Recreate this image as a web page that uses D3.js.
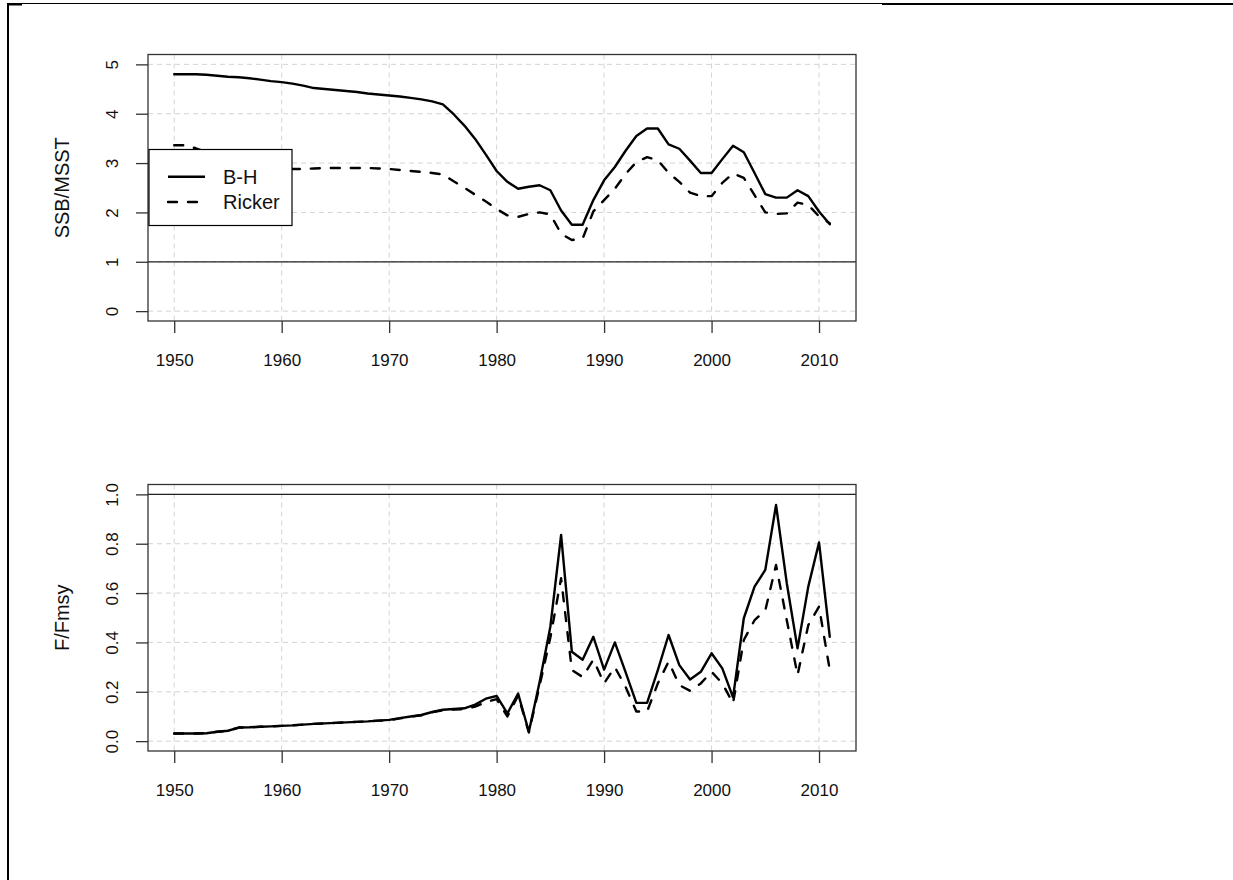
<!DOCTYPE html>
<html><head><meta charset="utf-8">
<script src="https://cdn.jsdelivr.net/npm/d3@7"></script>
<style>body{margin:0;background:#fff}svg{display:block}text{font-family:"Liberation Sans",Arial,sans-serif;fill:#111}</style>
</head><body><svg id="c" width="1233" height="880"></svg>
<script>
const years = [1950,1951,1952,1953,1954,1955,1956,1957,1958,1959,1960,1961,1962,1963,1964,1965,1966,1967,1968,1969,1970,1971,1972,1973,1974,1975,1976,1977,1978,1979,1980,1981,1982,1983,1984,1985,1986,1987,1988,1989,1990,1991,1992,1993,1994,1995,1996,1997,1998,1999,2000,2001,2002,2003,2004,2005,2006,2007,2008,2009,2010,2011];
const ssbBH = [4.80,4.80,4.80,4.79,4.77,4.75,4.74,4.72,4.69,4.66,4.64,4.61,4.57,4.52,4.50,4.48,4.46,4.44,4.41,4.39,4.37,4.35,4.32,4.29,4.25,4.19,3.99,3.76,3.49,3.17,2.84,2.62,2.48,2.52,2.55,2.45,2.04,1.75,1.75,2.25,2.65,2.92,3.25,3.55,3.70,3.70,3.38,3.29,3.05,2.80,2.80,3.08,3.35,3.22,2.80,2.37,2.30,2.30,2.45,2.33,2.02,1.76];
const ssbRicker = [3.36,3.36,3.30,3.22,3.12,3.05,3.00,2.96,2.93,2.91,2.89,2.88,2.88,2.89,2.90,2.90,2.90,2.90,2.90,2.89,2.88,2.86,2.84,2.82,2.80,2.77,2.63,2.50,2.36,2.22,2.07,1.94,1.91,1.97,2.00,1.96,1.57,1.44,1.47,2.02,2.25,2.48,2.78,3.02,3.12,3.06,2.80,2.62,2.40,2.33,2.33,2.60,2.79,2.70,2.35,2.00,1.97,1.98,2.20,2.15,1.92,1.78];
const fBH = [0.031,0.031,0.031,0.032,0.038,0.042,0.055,0.056,0.058,0.060,0.062,0.064,0.067,0.070,0.072,0.074,0.076,0.078,0.080,0.083,0.086,0.093,0.100,0.106,0.118,0.127,0.130,0.133,0.148,0.172,0.183,0.112,0.193,0.038,0.240,0.464,0.836,0.362,0.330,0.423,0.290,0.400,0.280,0.155,0.155,0.288,0.430,0.308,0.250,0.281,0.356,0.295,0.177,0.498,0.626,0.694,0.957,0.640,0.376,0.626,0.805,0.423];
const fRicker = [0.031,0.031,0.031,0.032,0.038,0.042,0.055,0.056,0.058,0.060,0.062,0.064,0.067,0.070,0.072,0.074,0.076,0.078,0.080,0.083,0.085,0.092,0.099,0.105,0.117,0.125,0.128,0.130,0.140,0.158,0.170,0.100,0.185,0.035,0.225,0.420,0.660,0.288,0.260,0.330,0.234,0.300,0.220,0.120,0.120,0.234,0.322,0.227,0.204,0.234,0.281,0.234,0.153,0.410,0.490,0.530,0.714,0.490,0.268,0.470,0.545,0.288];
const xTicks = [1950,1960,1970,1980,1990,2000,2010];
const ssbTicks = [0,1,2,3,4,5];
const fTicks = [0.0,0.2,0.4,0.6,0.8,1.0];
const legendLabels = ["B-H","Ricker"];

const svg = d3.select("#c");
// outer frame fragments
svg.append("line").attr("x1",8).attr("x2",8).attr("y1",3).attr("y2",880).attr("stroke","#000").attr("stroke-width",2);
svg.append("line").attr("x1",7).attr("x2",882).attr("y1",3.5).attr("y2",3.5).attr("stroke","#000").attr("stroke-width",1);
svg.append("line").attr("x1",882).attr("x2",1233).attr("y1",4).attr("y2",4).attr("stroke","#000").attr("stroke-width",2);
svg.append("line").attr("x1",7).attr("x2",22).attr("y1",4.5).attr("y2",4.5).attr("stroke","#000").attr("stroke-width",2);

const L = 148, R = 856;
const x = d3.scaleLinear().domain([1947.56, 2013.44]).range([L, R]);

function panel(top, bottom, yDomain, yTicks, fmt, s1, s2, ylab, legend) {
  const y = d3.scaleLinear().domain(yDomain).range([bottom, top]);
  const g = svg.append("g");
  // grid
  g.selectAll(".gx").data(xTicks).join("line")
    .attr("x1",d=>x(d)).attr("x2",d=>x(d)).attr("y1",top).attr("y2",bottom)
    .attr("stroke","#d3d3d3").attr("stroke-dasharray","5,4");
  g.selectAll(".gy").data(yTicks).join("line")
    .attr("x1",L).attr("x2",R).attr("y1",d=>y(d)).attr("y2",d=>y(d))
    .attr("stroke","#d3d3d3").attr("stroke-dasharray","5,4");
  // reference line at 1
  g.append("line").attr("x1",L).attr("x2",R).attr("y1",y(1)).attr("y2",y(1)).attr("stroke","#222").attr("stroke-width",1.3);
  const line = d3.line().x((d,i)=>x(years[i])).y(d=>y(d));
  g.append("path").datum(s2).attr("d",line).attr("fill","none").attr("stroke","#000")
    .attr("stroke-width",2.4).attr("stroke-dasharray","9,11").attr("stroke-linecap","round").attr("stroke-linejoin","round");
  g.append("path").datum(s1).attr("d",line).attr("fill","none").attr("stroke","#000")
    .attr("stroke-width",2.4).attr("stroke-linejoin","round").attr("stroke-linecap","round");
  // box
  g.append("rect").attr("x",L).attr("y",top).attr("width",R-L).attr("height",bottom-top)
    .attr("fill","none").attr("stroke","#333").attr("stroke-width",1.3);
  // x axis
  const xa = g.append("g").attr("transform",`translate(0,${bottom})`)
    .call(d3.axisBottom(x).tickValues(xTicks).tickFormat(d3.format("d")).tickSize(12).tickPadding(19).tickSizeOuter(0));
  xa.select(".domain").remove();
  xa.selectAll("line").attr("stroke","#333").attr("stroke-width",1.3);
  xa.selectAll("text").attr("font-size",17).attr("font-family","Liberation Sans, Arial").attr("fill","#111").attr("dy","0.32em").attr("y",40);
  // y axis
  const ya = g.append("g").attr("transform",`translate(${L},0)`)
    .call(d3.axisLeft(y).tickValues(yTicks).tickFormat(fmt).tickSize(12).tickSizeOuter(0));
  ya.select(".domain").remove();
  ya.selectAll("line").attr("stroke","#333").attr("stroke-width",1.3);
  ya.selectAll("text").attr("x",0).attr("y",0).attr("dy","0.35em").attr("text-anchor","middle")
    .attr("transform","translate(-36,0) rotate(-90)")
    .attr("font-size",17).attr("font-family","Liberation Sans, Arial").attr("fill","#111");
  svg.append("text").attr("transform",`translate(62,${(top+bottom)/2}) rotate(-90)`)
    .attr("text-anchor","middle").attr("dy","0.35em").attr("font-size",20).text(ylab);
  if (legend) {
    const lg = svg.append("g");
    lg.append("rect").attr("x",149).attr("y",149.5).attr("width",143).attr("height",76)
      .attr("fill","#fff").attr("stroke","#000").attr("stroke-width",1.2);
    const ly = [176.7, 202];
    legendLabels.forEach((lab,i)=>{
      lg.append("line").attr("x1",168).attr("x2",205).attr("y1",ly[i]).attr("y2",ly[i])
        .attr("stroke","#000").attr("stroke-width",2.4)
        .attr("stroke-dasharray", i===1 ? "9,11" : null).attr("stroke-linecap", i===1 ? "round":"butt");
      lg.append("text").attr("x",223).attr("y",ly[i]).attr("dy","0.35em").attr("font-size",20).text(lab);
    });
  }
}
panel(54.5, 321, [-0.2, 5.2], ssbTicks, d3.format("d"), ssbBH, ssbRicker, "SSB/MSST", true);
panel(484.5, 751, [-0.04, 1.04], fTicks, d3.format(".1f"), fBH, fRicker, "F/Fmsy", false);
</script></body></html>
